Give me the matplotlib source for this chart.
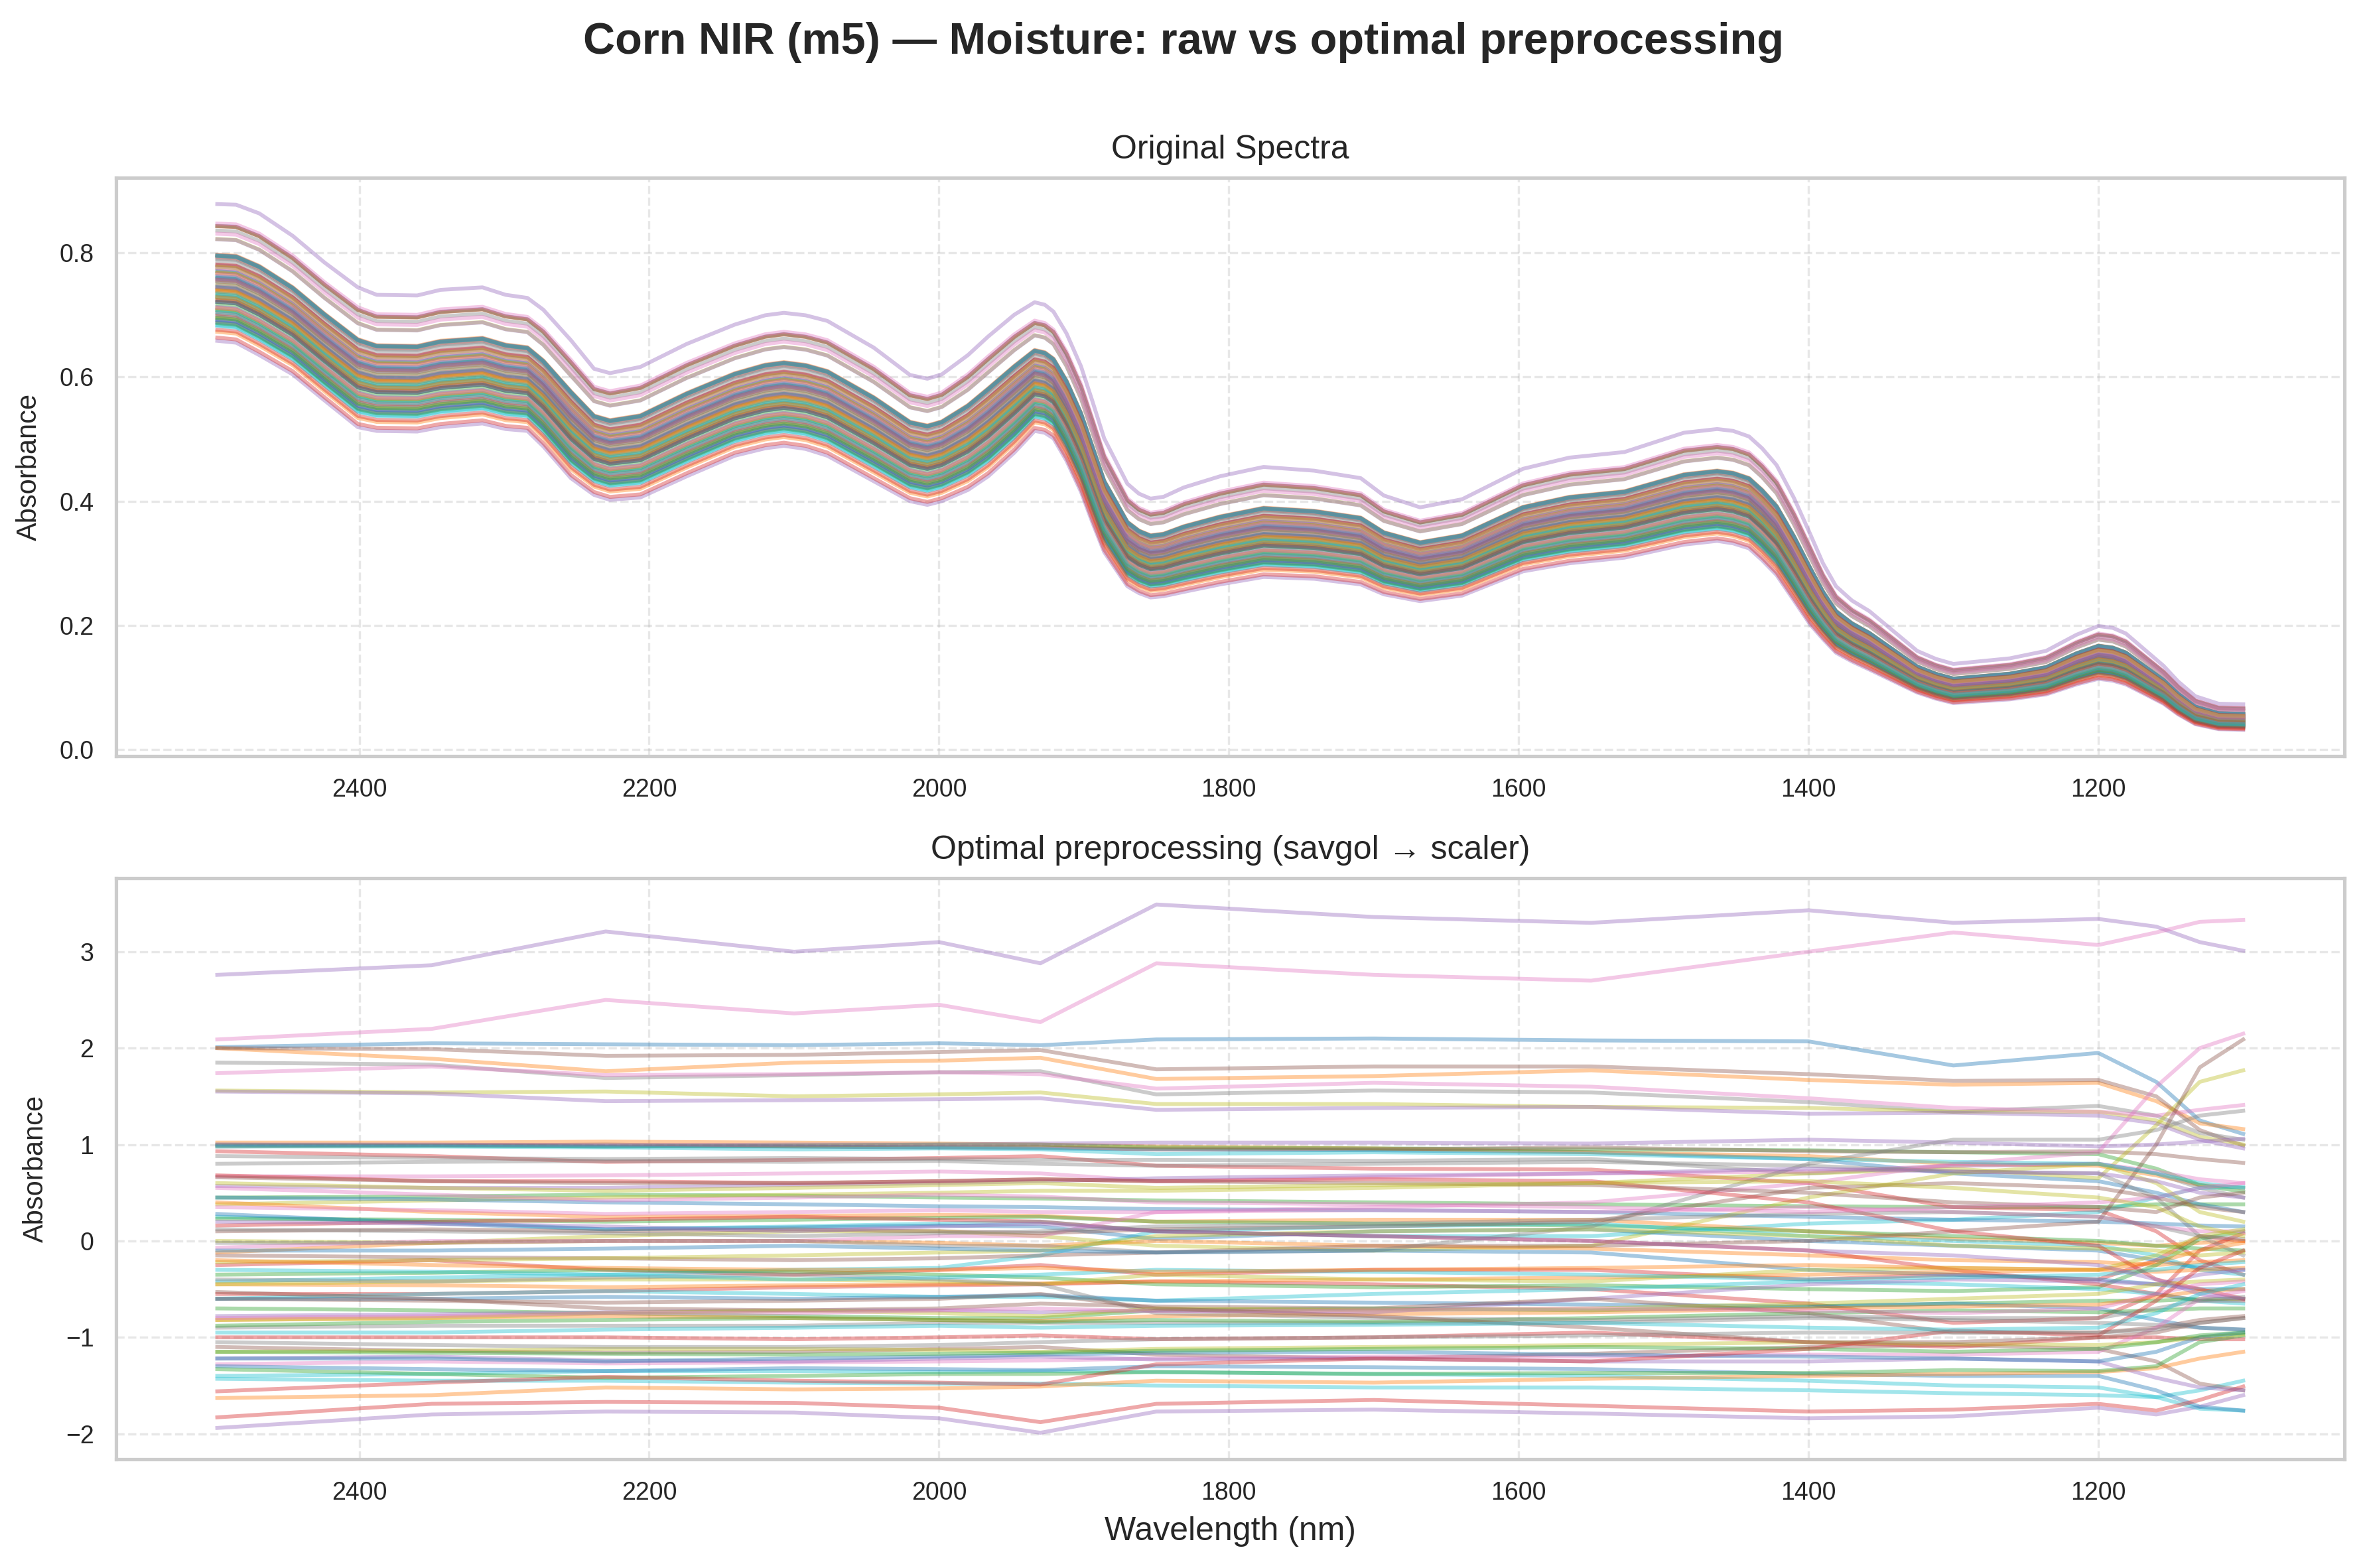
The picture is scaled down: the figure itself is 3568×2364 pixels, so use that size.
import numpy as np
import matplotlib.pyplot as plt

plt.rcParams['font.family'] = ['Liberation Sans', 'DejaVu Sans']
plt.rcParams['text.color'] = '#262626'
plt.rcParams['axes.labelcolor'] = '#262626'

# ---- raw spectra: upper / lower envelope ----
raw_nm = [2498, 2485, 2469, 2446, 2424, 2401, 2388, 2360, 2344, 2315, 2299, 2284,
          2273, 2254, 2238, 2227, 2206, 2174, 2141, 2120, 2107, 2092, 2077, 2045,
          2020, 2008, 1998, 1980, 1966, 1948, 1934, 1927, 1921, 1912, 1902, 1894,
          1886, 1870, 1862, 1854, 1845, 1831, 1806, 1776, 1741, 1709, 1693, 1668,
          1639, 1597, 1565, 1527, 1486, 1463, 1452, 1441, 1432, 1422, 1410, 1399,
          1390, 1381, 1370, 1358, 1325, 1312, 1300, 1261, 1236, 1215, 1200, 1190,
          1181, 1170, 1155, 1145, 1133, 1117, 1100]
raw_upper = [0.878, 0.877, 0.863, 0.827, 0.784, 0.744, 0.732, 0.731, 0.740, 0.744, 0.732, 0.727,
             0.708, 0.659, 0.613, 0.606, 0.616, 0.653, 0.684, 0.699, 0.703, 0.699, 0.690, 0.647,
             0.603, 0.597, 0.604, 0.635, 0.665, 0.700, 0.720, 0.716, 0.705, 0.670, 0.617, 0.560,
             0.501, 0.428, 0.412, 0.404, 0.407, 0.422, 0.440, 0.455, 0.449, 0.437, 0.409, 0.390,
             0.403, 0.452, 0.470, 0.479, 0.510, 0.516, 0.513, 0.504, 0.485, 0.458, 0.405, 0.348,
             0.300, 0.263, 0.240, 0.223, 0.159, 0.146, 0.138, 0.147, 0.159, 0.185, 0.199, 0.196,
             0.187, 0.165, 0.135, 0.110, 0.086, 0.074, 0.073]
raw_lower = [0.658, 0.655, 0.635, 0.604, 0.562, 0.519, 0.513, 0.512, 0.519, 0.525, 0.516, 0.513,
             0.488, 0.437, 0.410, 0.402, 0.406, 0.440, 0.473, 0.485, 0.489, 0.484, 0.473, 0.432,
             0.400, 0.394, 0.400, 0.418, 0.440, 0.478, 0.513, 0.510, 0.501, 0.465, 0.415, 0.365,
             0.318, 0.263, 0.252, 0.245, 0.247, 0.254, 0.266, 0.278, 0.275, 0.266, 0.250, 0.239,
             0.248, 0.287, 0.300, 0.309, 0.330, 0.336, 0.332, 0.324, 0.305, 0.281, 0.240, 0.202,
             0.178, 0.156, 0.142, 0.129, 0.092, 0.082, 0.075, 0.081, 0.089, 0.105, 0.114, 0.111,
             0.105, 0.092, 0.074, 0.057, 0.041, 0.033, 0.032]

# ---- preprocessed (standardised) spectra, read at these wavelengths ----
knot_nm = [2498, 2350, 2230, 2100, 2000, 1930, 1850, 1700, 1550, 1400, 1300, 1200, 1160, 1130, 1100]

# samples grouped by line colour (tab10 order), in plotting order
blue = [
    [2.01, 2.05, 2.04, 2.03, 2.05, 2.03, 2.09, 2.10, 2.08, 2.07, 1.82, 1.95, 1.65, 1.25, 1.11],
    [1.00, 0.99, 0.98, 0.98, 0.97, 0.96, 0.95, 0.94, 0.92, 0.85, 0.70, 0.62, 0.50, 0.38, 0.30],
    [0.45, 0.43, 0.40, 0.38, 0.36, 0.35, 0.33, 0.32, 0.30, 0.25, 0.22, 0.20, 0.18, 0.16, 0.15],
    [0.28, 0.18, 0.12, 0.14, 0.16, 0.15, 0.02, 0.10, 0.12, 0.00, -0.05, -0.10, -0.20, -0.28, -0.30],
    [-0.10, -0.10, -0.08, -0.05, -0.08, -0.10, -0.12, -0.10, -0.12, -0.30, -0.35, -0.40, -0.45, -0.50, -0.50],
    [-0.60, -0.60, -0.58, -0.60, -0.58, -0.56, -0.62, -0.64, -0.66, -0.68, -0.65, -0.70, -0.82, -0.90, -0.92],
    [-1.30, -1.33, -1.35, -1.32, -1.33, -1.34, -1.30, -1.31, -1.33, -1.38, -1.40, -1.40, -1.55, -1.72, -1.76],
    [-1.22, -1.22, -1.25, -1.22, -1.20, -1.18, -1.16, -1.15, -1.18, -1.20, -1.22, -1.25, -1.15, -1.00, -0.95],
]
orange = [
    [2.00, 1.89, 1.76, 1.85, 1.87, 1.90, 1.68, 1.71, 1.77, 1.67, 1.62, 1.64, 1.45, 1.22, 1.16],
    [1.02, 1.02, 1.03, 1.02, 1.01, 1.00, 0.98, 0.96, 0.92, 0.88, 0.80, 0.78, 0.68, 0.58, 0.55],
    [0.40, 0.30, 0.25, 0.26, 0.27, 0.26, 0.20, 0.22, 0.22, 0.10, 0.02, -0.02, -0.05, -0.02, 0.00],
    [-0.12, -0.02, 0.00, 0.00, -0.02, -0.05, 0.00, -0.05, -0.08, -0.15, -0.20, -0.22, -0.25, -0.22, -0.20],
    [-0.45, -0.46, -0.48, -0.46, -0.45, -0.44, -0.42, -0.40, -0.38, -0.35, -0.32, -0.30, -0.32, -0.30, -0.28],
    [-0.82, -0.80, -0.78, -0.80, -0.82, -0.83, -0.78, -0.76, -0.74, -0.70, -0.68, -0.66, -0.58, -0.52, -0.50],
    [-1.63, -1.60, -1.52, -1.54, -1.53, -1.51, -1.45, -1.47, -1.43, -1.40, -1.38, -1.36, -1.32, -1.22, -1.15],
    [-0.20, -0.25, -0.28, -0.30, -0.30, -0.28, -0.32, -0.30, -0.28, -0.25, -0.28, -0.30, -0.22, -0.10, -0.02],
]
green = [
    [0.45, 0.46, 0.48, 0.47, 0.45, 0.44, 0.42, 0.40, 0.38, 0.36, 0.35, 0.35, 0.38, 0.38, 0.38],
    [0.99, 0.99, 0.98, 0.99, 1.00, 1.00, 0.97, 0.96, 0.95, 0.94, 0.92, 0.90, 0.75, 0.58, 0.51],
    [0.23, 0.22, 0.20, 0.22, 0.24, 0.25, 0.20, 0.18, 0.16, 0.10, 0.05, 0.00, -0.05, -0.08, -0.10],
    [-0.35, -0.33, -0.30, -0.32, -0.35, -0.38, -0.45, -0.48, -0.46, -0.50, -0.52, -0.48, -0.25, 0.02, 0.10],
    [-0.70, -0.72, -0.75, -0.78, -0.80, -0.80, -0.72, -0.70, -0.72, -0.68, -0.65, -0.62, -0.62, -0.60, -0.60],
    [-0.88, -0.84, -0.82, -0.80, -0.82, -0.84, -0.82, -0.84, -0.80, -0.75, -0.72, -0.74, -0.72, -0.70, -0.70],
    [-1.33, -1.38, -1.42, -1.40, -1.38, -1.38, -1.36, -1.38, -1.37, -1.37, -1.34, -1.35, -1.30, -1.05, -0.98],
    [-1.15, -1.16, -1.17, -1.18, -1.17, -1.16, -1.14, -1.12, -1.10, -1.12, -1.15, -1.12, -1.05, -0.98, -0.95],
]
red = [
    [0.93, 0.88, 0.82, 0.84, 0.86, 0.88, 0.78, 0.75, 0.74, 0.60, 0.35, 0.32, 0.10, -0.20, -0.35],
    [-0.25, -0.20, -0.30, -0.35, -0.30, -0.25, -0.35, -0.30, -0.30, -0.40, -0.35, -0.40, -0.20, 0.05, 0.00],
    [-0.55, -0.55, -0.52, -0.48, -0.46, -0.45, -0.42, -0.45, -0.50, -0.65, -0.85, -0.80, -0.55, -0.10, 0.08],
    [0.16, 0.20, 0.22, 0.25, 0.22, 0.20, 0.10, 0.05, 0.00, -0.10, -0.30, -0.45, -0.55, -0.62, -0.62],
    [-1.00, -1.00, -1.00, -1.02, -1.00, -0.98, -1.02, -1.00, -0.95, -1.05, -1.10, -1.00, -1.00, -1.02, -1.02],
    [0.68, 0.62, 0.62, 0.60, 0.62, 0.64, 0.62, 0.64, 0.62, 0.40, 0.10, -0.05, -0.40, -0.50, -0.60],
    [-1.83, -1.69, -1.67, -1.68, -1.73, -1.88, -1.69, -1.65, -1.71, -1.77, -1.75, -1.69, -1.76, -1.65, -1.51],
    [-1.56, -1.47, -1.41, -1.45, -1.47, -1.49, -1.28, -1.22, -1.25, -1.12, -0.93, -0.98, -0.62, -0.28, -0.10],
]
purple = [
    [2.76, 2.86, 3.21, 3.00, 3.10, 2.88, 3.49, 3.36, 3.30, 3.43, 3.30, 3.34, 3.26, 3.10, 3.01],
    [1.55, 1.53, 1.45, 1.46, 1.47, 1.48, 1.36, 1.38, 1.39, 1.32, 1.33, 1.30, 1.22, 1.05, 0.96],
    [-1.94, -1.80, -1.77, -1.78, -1.84, -1.99, -1.77, -1.75, -1.79, -1.84, -1.82, -1.73, -1.80, -1.72, -1.60],
    [1.00, 1.00, 0.99, 1.00, 1.00, 1.01, 1.02, 1.02, 1.01, 1.05, 1.02, 0.98, 1.00, 1.03, 1.06],
    [0.57, 0.55, 0.55, 0.58, 0.60, 0.62, 0.65, 0.68, 0.70, 0.75, 0.72, 0.70, 0.62, 0.50, 0.45],
    [-0.78, -0.76, -0.74, -0.72, -0.72, -0.74, -0.72, -0.74, -0.60, -0.45, -0.40, -0.42, -0.45, -0.35, -0.30],
    [-1.22, -1.20, -1.24, -1.25, -1.22, -1.20, -1.23, -1.22, -1.25, -1.25, -1.22, -1.25, -1.42, -1.52, -1.55],
    [0.20, 0.18, 0.15, 0.10, 0.15, 0.18, 0.10, 0.05, 0.00, -0.10, -0.15, -0.25, -0.40, -0.55, -0.60],
]
brown = [
    [2.00, 1.99, 1.92, 1.93, 1.96, 1.98, 1.78, 1.81, 1.81, 1.73, 1.66, 1.67, 1.50, 1.15, 0.99],
    [0.98, 0.99, 1.00, 0.98, 0.97, 0.97, 0.95, 0.95, 0.97, 0.93, 0.92, 0.93, 0.90, 0.85, 0.81],
    [-1.10, -1.14, -1.16, -1.15, -1.12, -1.10, -1.18, -1.22, -1.17, -1.10, -1.08, -1.12, -1.25, -1.48, -1.55],
    [-0.15, -0.17, -0.18, -0.20, -0.18, -0.15, -0.12, -0.05, -0.05, 0.00, 0.10, 0.20, 1.00, 1.80, 2.09],
    [0.10, 0.12, 0.10, 0.12, 0.10, 0.08, 0.12, 0.15, 0.20, 0.55, 0.60, 0.55, 0.45, 0.35, 0.30],
    [-0.53, -0.60, -0.70, -0.72, -0.70, -0.65, -0.68, -0.70, -0.60, -0.75, -0.95, -0.95, -0.90, -0.82, -0.78],
    [0.66, 0.62, 0.60, 0.60, 0.62, 0.64, 0.62, 0.60, 0.58, 0.50, 0.40, 0.35, 0.30, 0.45, 0.50],
    [-0.60, -0.62, -0.64, -0.62, -0.60, -0.55, -0.70, -0.78, -0.90, -1.05, -1.05, -1.00, -0.95, -0.85, -0.80],
]
pink = [
    [2.09, 2.20, 2.50, 2.36, 2.45, 2.27, 2.88, 2.76, 2.70, 3.00, 3.20, 3.07, 3.20, 3.31, 3.33],
    [1.74, 1.81, 1.72, 1.73, 1.75, 1.73, 1.58, 1.64, 1.60, 1.48, 1.38, 1.34, 1.30, 1.36, 1.41],
    [0.67, 0.67, 0.68, 0.70, 0.72, 0.70, 0.62, 0.66, 0.70, 0.72, 0.78, 0.80, 0.72, 0.64, 0.60],
    [-0.07, 0.00, 0.00, 0.00, 0.05, 0.05, 0.30, 0.35, 0.40, 0.60, 0.80, 0.92, 1.60, 2.00, 2.15],
    [0.35, 0.32, 0.28, 0.30, 0.32, 0.30, 0.30, 0.32, 0.30, 0.35, 0.30, 0.25, 0.15, 0.10, 0.10],
    [-1.28, -1.25, -1.27, -1.26, -1.25, -1.24, -1.22, -1.20, -1.20, -1.18, -1.18, -1.15, -0.90, -0.60, -0.52],
    [-0.80, -0.78, -0.75, -0.75, -0.72, -0.70, -0.73, -0.72, -0.70, -0.72, -0.75, -0.70, -0.55, -0.45, -0.42],
    [0.55, 0.48, 0.42, 0.45, 0.48, 0.46, 0.40, 0.38, 0.35, 0.30, 0.35, 0.40, 0.45, 0.55, 0.60],
]
gray = [
    [1.85, 1.83, 1.69, 1.72, 1.75, 1.76, 1.52, 1.56, 1.54, 1.44, 1.34, 1.40, 1.30, 1.12, 1.05],
    [0.88, 0.86, 0.85, 0.86, 0.85, 0.84, 0.84, 0.83, 0.85, 0.70, 0.78, 0.80, 0.70, 0.55, 0.45],
    [0.80, 0.82, 0.83, 0.82, 0.83, 0.80, 0.78, 0.80, 0.82, 0.78, 0.72, 0.70, 0.45, 0.05, -0.15],
    [-0.02, -0.02, 0.00, 0.00, -0.05, -0.05, -0.12, -0.10, 0.15, 0.80, 1.05, 1.05, 1.15, 1.30, 1.35],
    [-0.90, -0.88, -0.88, -0.88, -0.85, -0.85, -0.85, -0.85, -0.85, -0.80, -0.82, -0.85, -0.87, -0.90, -0.92],
    [-0.40, -0.42, -0.38, -0.35, -0.40, -0.45, -0.75, -0.80, -0.82, -0.78, -0.80, -0.80, -0.70, -0.62, -0.58],
    [0.12, 0.10, 0.08, 0.05, 0.08, 0.10, 0.15, 0.18, 0.22, 0.28, 0.30, 0.25, 0.15, 0.05, 0.02],
    [-1.05, -1.08, -1.10, -1.10, -1.08, -1.05, -1.02, -1.00, -0.98, -0.95, -0.95, -0.95, -0.92, -0.85, -0.80],
]
olive = [
    [1.56, 1.54, 1.55, 1.50, 1.52, 1.54, 1.42, 1.42, 1.39, 1.38, 1.34, 1.34, 1.25, 1.08, 1.00],
    [0.38, 0.42, 0.45, 0.48, 0.50, 0.52, 0.52, 0.55, 0.60, 0.70, 0.75, 0.65, 1.20, 1.65, 1.77],
    [0.00, -0.02, 0.05, 0.10, 0.10, 0.05, -0.05, -0.10, -0.05, 0.45, 0.70, 0.80, 0.60, 0.30, 0.20],
    [-0.22, -0.20, -0.18, -0.15, -0.12, -0.10, 0.05, 0.10, 0.12, 0.05, -0.05, -0.08, -0.10, -0.15, -0.12],
    [-0.45, -0.42, -0.40, -0.40, -0.42, -0.45, -0.35, -0.40, -0.42, -0.30, -0.28, -0.30, -0.15, 0.05, 0.12],
    [-0.82, -0.80, -0.75, -0.72, -0.75, -0.78, -0.70, -0.72, -0.70, -0.65, -0.60, -0.55, -0.45, -0.42, -0.40],
    [-1.15, -1.14, -1.12, -1.12, -1.13, -1.15, -1.12, -1.10, -1.08, -1.05, -1.07, -1.08, -1.05, -1.00, -0.97],
    [0.60, 0.55, 0.52, 0.55, 0.58, 0.60, 0.55, 0.58, 0.60, 0.62, 0.55, 0.45, 0.35, 0.15, 0.05],
]
cyan = [
    [-1.43, -1.45, -1.45, -1.47, -1.48, -1.48, -1.50, -1.52, -1.52, -1.55, -1.58, -1.60, -1.62, -1.55, -1.45],
    [0.25, 0.20, 0.12, 0.15, 0.18, 0.20, 0.10, 0.05, 0.05, 0.18, 0.22, 0.30, 0.45, 0.55, 0.56],
    [-0.42, -0.38, -0.35, -0.30, -0.28, -0.15, 0.10, 0.15, 0.18, 0.05, 0.00, -0.05, -0.15, -0.30, -0.35],
    [-0.60, -0.55, -0.52, -0.55, -0.58, -0.58, -0.62, -0.55, -0.50, -0.42, -0.45, -0.50, -0.55, -0.62, -0.65],
    [0.98, 0.98, 0.97, 0.95, 0.96, 0.95, 0.90, 0.92, 0.90, 0.85, 0.82, 0.80, 0.70, 0.60, 0.55],
    [-1.40, -1.38, -1.35, -1.35, -1.36, -1.35, -1.36, -1.38, -1.40, -1.45, -1.50, -1.52, -1.62, -1.74, -1.76],
    [-0.30, -0.32, -0.35, -0.40, -0.38, -0.35, -0.30, -0.32, -0.35, -0.40, -0.38, -0.35, -0.30, -0.25, -0.22],
    [-0.95, -0.95, -0.92, -0.90, -0.88, -0.90, -0.88, -0.87, -0.85, -0.90, -0.92, -0.90, -0.75, -0.55, -0.45],
]

groups = [blue, orange, green, red, purple, brown, pink, gray, olive, cyan]
colors = ['tab:blue', 'tab:orange', 'tab:green', 'tab:red', 'tab:purple',
          'tab:brown', 'tab:pink', 'tab:gray', 'tab:olive', 'tab:cyan']

# interleave colour groups back into sample order (sample i -> colour i % 10)
samples, sample_colors = [], []
for k in range(8):
    for c in range(10):
        samples.append(groups[c][k])
        sample_colors.append(colors[c])

upper = np.array(raw_upper)
lower = np.array(raw_lower)
# position of each sample inside the raw band = its scaled value at 2498 nm
levels = [s[0] for s in samples]
lo, hi = min(levels), max(levels)

fig = plt.figure(figsize=(3568 / 300, 2364 / 300), dpi=300)
ax1 = fig.add_axes([0.049, 0.5178, 0.9415, 0.3688])
ax2 = fig.add_axes([0.049, 0.0694, 0.9415, 0.3706])

for s, col, lv in zip(samples, sample_colors, levels):
    frac = (lv - lo) / (hi - lo)
    ax1.plot(raw_nm, lower + (upper - lower) * frac, color=col, alpha=0.4, lw=1.4)
    ax2.plot(knot_nm, s, color=col, alpha=0.4, lw=1.4)

for ax in (ax1, ax2):
    ax.invert_xaxis()
    ax.set_facecolor('white')
    ax.grid(True, linestyle='--', linewidth=0.8, color='#b0b0b0', alpha=0.3)
    ax.set_axisbelow(True)
    for sp in ax.spines.values():
        sp.set_color('#cccccc')
        sp.set_linewidth(1.25)
    ax.tick_params(length=0, labelsize=9, labelcolor='#262626', pad=8)
    ax.set_ylabel('Absorbance', fontsize=10, labelpad=6)

ax1.set_title('Original Spectra', fontsize=12, pad=7)
ax2.set_title('Optimal preprocessing (savgol \u2192 scaler)', fontsize=12, pad=7)
ax2.set_xlabel('Wavelength (nm)', fontsize=12, labelpad=4)

fig.suptitle('Corn NIR (m5) \u2014 Moisture: raw vs optimal preprocessing',
             fontsize=16, fontweight='bold', y=0.986)

fig.savefig('out.png', dpi=300)
